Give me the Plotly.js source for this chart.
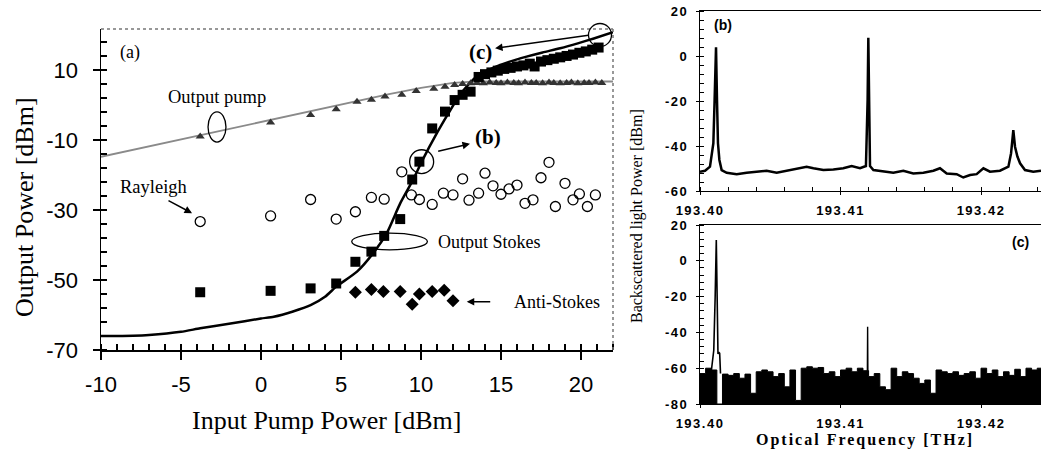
<!DOCTYPE html>
<html>
<head>
<meta charset="utf-8">
<script src="https://cdn.plot.ly/plotly-3.0.1.min.js"></script>
<style>
html,body{margin:0;padding:0;background:#fff;}
#chart{width:1041px;height:456px;}
</style>
</head>
<body>
<div id="chart"></div>
<script>
// ---- Panel (a): output power vs input pump power ----
const pumpLineX = [-10, -5, 0, 5, 8, 10, 11, 12, 13, 14, 22];
const pumpLineY = [-14.8, -9.8, -4.8, 0.2, 3.1, 4.9, 5.7, 6.3, 6.6, 6.7, 6.7];

const stokesLineX = [-10, -8, -7, -5, -3.8, -2, 0, 0.8, 2, 3.1, 4, 4.7, 6, 7, 7.85, 8.7, 9.5, 10.1, 11.0, 11.7, 12.3, 13.0, 13.5, 14.5, 15.5, 16.6, 17.6, 18.7, 19.8, 20.8, 22];
const stokesLineY = [-66.0, -65.9, -65.7, -64.8, -63.8, -62.5, -61.0, -60.5, -59.0, -57.2, -54.8, -51.9, -47.6, -42.4, -36.7, -28.1, -21.4, -15.7, -8.0, -2.5, 2.0, 6.0, 8.2, 10.6, 12.3, 13.8, 15.0, 16.2, 17.6, 19.0, 20.8];

const pumpPtsX = [-3.8, 0.6, 3.1, 4.7, 6.0, 6.9, 7.75, 8.8, 9.7, 10.8, 11.5, 12.1, 12.6, 13.1, 13.5, 13.9, 14.3, 14.7, 15.0, 15.4, 15.8, 16.1, 16.5, 16.9, 17.2, 17.6, 18.0, 18.3, 18.7, 19.1, 19.4, 19.8, 20.2, 20.5, 20.9, 21.3];
const pumpPtsY = [-9.0, -5.0, -2.9, -1.2, 0.9, 1.5, 2.4, 2.9, 4.0, 4.6, 5.2, 5.7, 6.0, 6.2, 6.3, 6.2, 6.4, 6.3, 6.2, 6.4, 6.3, 6.2, 6.4, 6.3, 6.3, 6.2, 6.4, 6.3, 6.2, 6.3, 6.4, 6.2, 6.3, 6.3, 6.4, 6.3];

const stokesPtsX = [-3.8, 0.6, 3.1, 4.7, 5.9, 6.9, 7.7, 8.7, 9.45, 9.9, 10.7, 11.5, 12.1, 12.6, 13.1, 13.6, 14.0, 14.4, 14.8, 15.2, 15.6, 16.0, 16.4, 16.8, 17.1, 17.5, 17.9, 18.3, 18.7, 19.1, 19.5, 19.9, 20.3, 20.7, 21.1];
const stokesPtsY = [-53.5, -53.1, -52.4, -51.0, -44.8, -41.9, -37.4, -32.6, -21.3, -16.2, -6.7, -1.9, 1.4, 2.9, 3.8, 8.0, 8.8, 9.3, 9.8, 10.3, 10.6, 11.0, 11.3, 11.8, 11.0, 12.4, 12.8, 13.2, 13.6, 14.0, 14.4, 14.9, 15.3, 15.8, 16.4];

const rayleighX = [-3.8, 0.6, 3.1, 4.7, 5.9, 6.9, 7.7, 8.8, 9.4, 9.9, 10.7, 11.4, 12.0, 12.6, 13.0, 13.6, 14.0, 14.5, 15.0, 15.5, 16.0, 16.5, 17.0, 17.5, 18.0, 18.4, 19.0, 19.5, 19.9, 20.4, 20.9];
const rayleighY = [-33.3, -31.7, -27.0, -32.6, -30.5, -26.4, -26.9, -19.1, -25.7, -27.0, -28.4, -25.2, -25.7, -21.1, -27.2, -25.2, -19.5, -23.1, -25.5, -24.0, -22.9, -28.1, -27.1, -20.8, -16.4, -29.0, -22.4, -27.1, -25.4, -29.0, -25.7];

const antiStokesX = [5.9, 6.9, 7.65, 8.7, 9.45, 9.9, 10.7, 11.45, 12.0];
const antiStokesY = [-53.5, -52.7, -53.3, -53.3, -56.9, -54.0, -53.3, -52.9, -55.9];

const mainXTicks = [-10, -5, 0, 5, 10, 15, 20];
const mainXTickText = ['-10', '-5', '0', '5', '10', '15', '20'];
const mainYTicks = [-70, -50, -30, -10, 10];
const mainYTickText = ['-70', '-50', '-30', '-10', '10'];

// ---- Panel (b): backscattered spectrum ----
const specBX = [193.4000, 193.40036, 193.40071, 193.40083, 193.40095, 193.40104, 193.40114, 193.40121, 193.40128, 193.40138, 193.40154, 193.4019, 193.40261, 193.40332, 193.40403, 193.40474, 193.40546, 193.40617, 193.40688, 193.40759, 193.40807, 193.40878, 193.40949, 193.4102, 193.41079, 193.41139, 193.41181, 193.41193, 193.41198, 193.41203, 193.4121, 193.41234, 193.41305, 193.41376, 193.41447, 193.41518, 193.4159, 193.41661, 193.41708, 193.41756, 193.41827, 193.41874, 193.41922, 193.41969, 193.42017, 193.42064, 193.42135, 193.42195, 193.42214, 193.4223, 193.42242, 193.42259, 193.42278, 193.42313, 193.42372, 193.42427];
const specBY = [-51.4, -51.0, -49.2, -44.7, -38.8, -19.5, 3.9, -19.5, -38.8, -46.2, -50.7, -51.9, -52.5, -51.9, -51.4, -51.0, -51.9, -51.0, -50.4, -49.2, -49.9, -50.7, -50.4, -49.9, -48.9, -49.9, -48.9, -19.5, 8.1, -19.5, -48.9, -50.7, -51.4, -51.9, -51.0, -52.2, -51.9, -51.0, -49.9, -52.2, -52.5, -54.0, -52.9, -52.5, -49.9, -51.4, -51.0, -49.2, -43.2, -32.9, -40.3, -44.7, -47.7, -50.7, -51.4, -51.0];

// ---- Panel (c): backscattered spectrum (noise envelope, step 0.0004 THz) ----
const specCStart = 193.4000;
const specCStep = 0.0004;
const specCEnv = [-63.0, -60.0, -61.0, -80.0, -63.3, -64.0, -63.0, -65.6, -63.3, -74.0, -62.0, -61.0, -62.0, -64.7, -63.0, -70.4, -61.0, -78.0, -60.0, -59.2, -60.0, -59.6, -63.0, -62.0, -64.7, -61.0, -60.0, -62.0, -60.0, -61.4, -64.7, -63.0, -70.4, -72.0, -60.0, -64.7, -62.0, -63.0, -65.6, -68.5, -66.6, -74.0, -61.0, -62.0, -63.0, -62.0, -64.0, -63.0, -62.0, -65.6, -60.0, -63.0, -61.0, -64.7, -62.0, -64.0, -60.6, -64.7, -60.0, -61.0, -60.0];
const peakC1X = [193.4008, 193.40098, 193.40108, 193.40116, 193.40122, 193.40128, 193.40134, 193.4014, 193.40146];
const peakC1Y = [-62.0, -50.0, -20.0, 11.6, -20.0, -52.0, -51.0, -51.7, -63.0];
const peakC2X = [193.41191, 193.41193, 193.41195];
const peakC2Y = [-64.0, -36.8, -64.0];

const rightXTicks = [193.40, 193.41, 193.42];
const rightXTickText = ['193.40', '193.41', '193.42'];
const rightBYTicks = [-60, -40, -20, 0, 20];
const rightBYTickText = ['-60', '-40', '-20', '0', '20'];
const rightCYTicks = [-80, -60, -40, -20, 0, 20];
const rightCYTickText = ['-80', '-60', '-40', '-20', '0', '20'];

const specCX = specCEnv.map((v, i) => specCStart + i * specCStep);

const W = 1041, H = 456;
const px = v => v / W;
const py = v => 1 - v / H;

const serif = 'Liberation Serif, Times New Roman, serif';
const sans = 'Liberation Sans, Arial, sans-serif';

const traces = [
  {x: pumpLineX, y: pumpLineY, mode: 'lines', line: {color: '#8a8a8a', width: 1.8}, xaxis: 'x', yaxis: 'y', hoverinfo: 'skip'},
  {x: stokesLineX, y: stokesLineY, mode: 'lines', line: {color: '#000', width: 2.5, shape: 'spline', smoothing: 0.6}, xaxis: 'x', yaxis: 'y'},
  {x: pumpPtsX, y: pumpPtsY, mode: 'markers', marker: {symbol: 'triangle-up', size: 8, color: '#333'}, xaxis: 'x', yaxis: 'y'},
  {x: stokesPtsX, y: stokesPtsY, mode: 'markers', marker: {symbol: 'square', size: 10, color: '#000'}, xaxis: 'x', yaxis: 'y'},
  {x: rayleighX, y: rayleighY, mode: 'markers', marker: {symbol: 'circle-open', size: 10, color: '#000', line: {width: 1.3}}, xaxis: 'x', yaxis: 'y'},
  {x: antiStokesX, y: antiStokesY, mode: 'markers', marker: {symbol: 'diamond', size: 10, color: '#000'}, xaxis: 'x', yaxis: 'y'},
  {x: specBX, y: specBY, mode: 'lines', line: {color: '#000', width: 2.5}, xaxis: 'x2', yaxis: 'y2'},
  {x: [specCStart, specCX[specCX.length - 1] + specCStep], y: [-80, -80], mode: 'lines', line: {width: 0, color: 'rgba(0,0,0,0)'}, xaxis: 'x3', yaxis: 'y3'},
  {x: specCX.concat([specCX[specCX.length - 1] + specCStep]), y: specCEnv.concat([specCEnv[specCEnv.length - 1]]), mode: 'lines', line: {color: '#000', width: 1, shape: 'hv'}, fill: 'tonexty', fillcolor: '#000', xaxis: 'x3', yaxis: 'y3'},
  {x: peakC1X, y: peakC1Y, mode: 'lines', line: {color: '#000', width: 1.6}, xaxis: 'x3', yaxis: 'y3'},
  {x: peakC2X, y: peakC2Y, mode: 'lines', line: {color: '#000', width: 1.4}, xaxis: 'x3', yaxis: 'y3'}
];

const rightX = {
  range: [193.40, 193.42427], tickmode: 'array', tickvals: rightXTicks, ticktext: rightXTickText,
  ticks: 'outside', ticklen: 3, tickcolor: '#000', showline: true, linecolor: '#000', linewidth: 1.2,
  mirror: true, showgrid: false, zeroline: false,
  minor: {tickmode: 'linear', tick0: 193.40, dtick: 0.002, ticks: 'inside', ticklen: 4, tickcolor: '#000', showgrid: false},
  tickfont: {family: sans, size: 13, color: '#000', weight: 'bold'}, ticklabelstandoff: 4
};
const rightY = {
  ticks: 'outside', ticklen: 3, tickcolor: '#000', showline: true, linecolor: '#000', linewidth: 1.2,
  showgrid: false, zeroline: false, tickmode: 'array',
  tickfont: {family: sans, size: 13, color: '#000', weight: 'bold'}, ticklabelstandoff: 5
};

const layout = {
  width: W, height: H,
  margin: {l: 0, r: 0, t: 0, b: 0},
  paper_bgcolor: '#fff', plot_bgcolor: '#fff',
  showlegend: false,
  xaxis: {
    domain: [px(101), px(613)], anchor: 'y', range: [-10, 22], tickmode: 'array', tickvals: mainXTicks, ticktext: mainXTickText,
    ticks: 'outside', ticklen: 8, tickwidth: 1.5, tickcolor: '#000',
    showline: true, linecolor: '#000', linewidth: 1.5, showgrid: false, zeroline: false,
    minor: {tickmode: 'linear', tick0: -10, dtick: 1, ticks: 'inside', ticklen: 6, tickcolor: '#000', tickwidth: 1.2, showgrid: false},
    tickfont: {family: sans, size: 22, color: '#000'}, ticklabelstandoff: 6
  },
  yaxis: {
    domain: [py(350), py(29)], anchor: 'x', range: [-70, 21.7], tickmode: 'array', tickvals: mainYTicks, ticktext: mainYTickText,
    ticks: 'outside', ticklen: 7, tickwidth: 1.5, tickcolor: '#000',
    showline: true, linecolor: '#000', linewidth: 1.5, showgrid: false, zeroline: false,
    minor: {tickmode: 'linear', tick0: -70, dtick: 4, ticks: 'inside', ticklen: 6, tickcolor: '#000', tickwidth: 1.2, showgrid: false},
    tickfont: {family: sans, size: 22, color: '#000'}, ticklabelstandoff: 10
  },
  xaxis2: Object.assign({}, rightX, {domain: [px(700), 1], anchor: 'y2'}),
  yaxis2: Object.assign({}, rightY, {domain: [py(191), py(11)], anchor: 'x2', range: [-60, 20], tickvals: rightBYTicks, ticktext: rightBYTickText,
    minor: {tickmode: 'linear', tick0: -60, dtick: 4, ticks: 'inside', ticklen: 4, tickcolor: '#000', showgrid: false}}),
  xaxis3: Object.assign({}, rightX, {domain: [px(700), 1], anchor: 'y3'}),
  yaxis3: Object.assign({}, rightY, {domain: [py(404), py(225)], anchor: 'x3', range: [-80, 20], tickvals: rightCYTicks, ticktext: rightCYTickText,
    minor: {tickmode: 'linear', tick0: -80, dtick: 4, ticks: 'inside', ticklen: 4, tickcolor: '#000', showgrid: false}}),
  shapes: [
    {type: 'line', xref: 'x domain', yref: 'y domain', x0: 0, x1: 1, y0: 1, y1: 1, line: {color: '#777', width: 1.5, dash: 'dot'}},
    {type: 'line', xref: 'x domain', yref: 'y domain', x0: 1, x1: 1, y0: 0, y1: 1, line: {color: '#777', width: 1.5, dash: 'dot'}},
    {type: 'circle', xref: 'x', yref: 'y', x0: -3.31, x1: -2.19, y0: -10.6, y1: -2.0, line: {color: '#000', width: 1.3}},
    {type: 'circle', xref: 'x', yref: 'y', x0: 5.67, x1: 10.4, y0: -41.4, y1: -36.6, line: {color: '#000', width: 1.3}},
    {type: 'circle', xref: 'x', yref: 'y', x0: 9.29, x1: 10.79, y0: -19.6, y1: -12.8, line: {color: '#000', width: 1.3}},
    {type: 'circle', xref: 'paper', yref: 'paper', x0: px(588.5), x1: px(611.5), y0: py(46.5), y1: py(23.5), line: {color: '#000', width: 1.3}}
  ],
  annotations: [
    {xref: 'paper', yref: 'paper', x: px(326), y: py(420), text: 'Input Pump Power [dBm]', showarrow: false, font: {family: serif, size: 26, color: '#000'}, xanchor: 'center', yanchor: 'middle'},
    {xref: 'paper', yref: 'paper', x: px(24), y: py(207), text: 'Output Power [dBm]', showarrow: false, textangle: -90, font: {family: serif, size: 26, color: '#000'}, xanchor: 'center', yanchor: 'middle'},
    {xref: 'paper', yref: 'paper', x: px(637), y: py(216), text: 'Backscattered light Power [dBm]', showarrow: false, textangle: -90, font: {family: serif, size: 16, color: '#000'}, xanchor: 'center', yanchor: 'middle'},
    {xref: 'paper', yref: 'paper', x: px(865), y: py(440), text: 'Optical Frequency [THz]', showarrow: false, font: {family: serif, size: 16, color: '#000', weight: 'bold'}, xanchor: 'center', yanchor: 'middle'},
    {xref: 'paper', yref: 'paper', x: px(723), y: py(25), text: '(b)', showarrow: false, font: {family: sans, size: 14, color: '#000', weight: 'bold'}, xanchor: 'center', yanchor: 'middle'},
    {xref: 'paper', yref: 'paper', x: px(1020), y: py(242), text: '(c)', showarrow: false, font: {family: sans, size: 14, color: '#000', weight: 'bold'}, xanchor: 'center', yanchor: 'middle'},
    {xref: 'x', yref: 'y', x: -8.19, y: 14.86, text: '(a)', showarrow: false, font: {family: serif, size: 18, color: '#000'}},
    {xref: 'x', yref: 'y', x: -2.75, y: 2.29, text: 'Output pump', showarrow: false, font: {family: serif, size: 18.5, color: '#000'}},
    {xref: 'x', yref: 'y', x: -6.75, y: -23.4, text: 'Rayleigh', showarrow: false, font: {family: serif, size: 18.5, color: '#000'}},
    {xref: 'x', yref: 'y', x: 14.31, y: -39.1, text: 'Output Stokes', showarrow: false, font: {family: serif, size: 18, color: '#000'}},
    {xref: 'x', yref: 'y', x: 18.48, y: -56.2, text: 'Anti-Stokes', showarrow: false, font: {family: serif, size: 18, color: '#000'}},
    {xref: 'x', yref: 'y', x: 14.2, y: -9.06, text: '(b)', showarrow: false, font: {family: serif, size: 21, color: '#000', weight: 'bold'}},
    {xref: 'x', yref: 'y', x: 13.69, y: 15.2, text: '(c)', showarrow: false, font: {family: serif, size: 21, color: '#000', weight: 'bold'}},
    {xref: 'x', yref: 'y', axref: 'x', ayref: 'y', x: -4.31, y: -30.9, ax: -5.875, ay: -27.1, text: '', showarrow: true, arrowhead: 2, arrowsize: 1, arrowwidth: 1.5, arrowcolor: '#000'},
    {xref: 'x', yref: 'y', axref: 'x', ayref: 'y', x: 12.86, y: -56.2, ax: 14.42, ay: -56.2, text: '', showarrow: true, arrowhead: 2, arrowsize: 1, arrowwidth: 1.5, arrowcolor: '#000'},
    {xref: 'x', yref: 'y', axref: 'x', ayref: 'y', x: 13.06, y: -11.1, ax: 10.98, ay: -13.3, text: '', showarrow: true, arrowhead: 2, arrowsize: 1, arrowwidth: 1.5, arrowcolor: '#000'},
    {xref: 'x', yref: 'y', axref: 'x', ayref: 'y', x: 14.63, y: 16.2, ax: 20.56, ay: 20.0, text: '', showarrow: true, arrowhead: 2, arrowsize: 1, arrowwidth: 1.5, arrowcolor: '#000'}
  ]
};

Plotly.newPlot('chart', traces, layout, {staticPlot: true, displayModeBar: false}).then(gd => {
  gd.querySelectorAll('g.x2tick text, g.x3tick text, g.y2tick text, g.y3tick text').forEach(t => { t.style.letterSpacing = '1.5px'; });
  gd.querySelectorAll('text.annotation-text').forEach(t => {
    if (t.textContent === 'Optical Frequency [THz]') t.style.letterSpacing = '2px';
  });
});
</script>
</body>
</html>
